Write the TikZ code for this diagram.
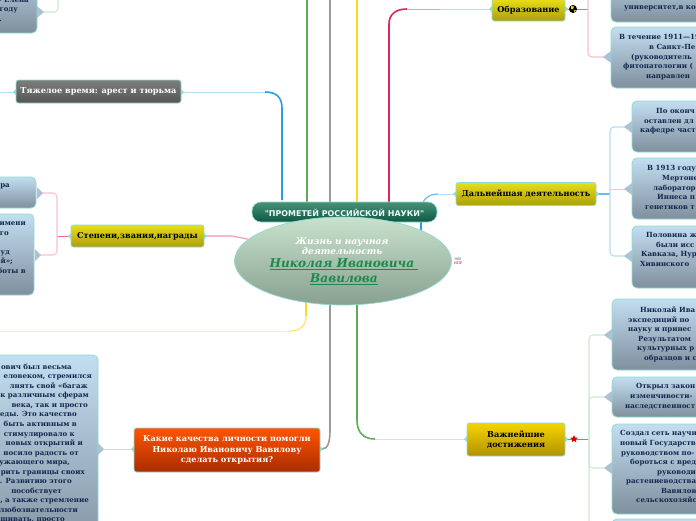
\documentclass[tikz,border=0pt]{standalone}
\usepackage{fontspec}
\setmainfont{DejaVu Serif}
\usetikzlibrary{shapes.geometric}
\definecolor{edgeTeal}{HTML}{8FDCCF}
\definecolor{navyText}{HTML}{14284F}
\definecolor{lineBlue}{HTML}{2A9EE0}
\definecolor{lineBlueL}{HTML}{B5DDF2}
\definecolor{lineGreen}{HTML}{5DAE57}
\definecolor{lineGreenL}{HTML}{CFE8CE}
\definecolor{lineGrey}{HTML}{9A9A9A}
\definecolor{lineGreyL}{HTML}{D8D8D8}
\definecolor{lineYellow}{HTML}{FFD820}
\definecolor{lineYellowL}{HTML}{FBEFB5}
\definecolor{lineRed}{HTML}{E0245E}
\definecolor{linePink}{HTML}{F2679A}
\definecolor{linePinkL}{HTML}{FBBFD3}
\definecolor{titleGreen}{HTML}{1C8A4C}
\definecolor{leafTop}{HTML}{C2DEF1}
\definecolor{leafBot}{HTML}{7F8F9D}
\definecolor{goldTop}{HTML}{E9DE18}
\definecolor{goldBot}{HTML}{AC9E10}
\tikzset{
  x=1pt,y=-1pt,
  boxbase/.style={rectangle,rounded corners=2.5pt,draw=edgeTeal,line width=0.8pt,inner sep=0pt,font=\bfseries\fontsize{8.15}{9.9}\selectfont,align=center},
  leaf/.style={boxbase,rounded corners=5pt,top color=leafTop,bottom color=leafBot},
  goldbox/.style={boxbase,top color=goldTop,bottom color=goldBot,text=black},
  txt/.style={inner sep=0pt,text=navyText,font=\bfseries\fontsize{7.05}{9.55}\selectfont},
  txtr/.style={txt,align=left,anchor=north west},
  txtl/.style={txt,align=right,anchor=north east},
  connthin/.style={line width=1.1pt,rounded corners=4pt},
}
\newcommand{\pad}[1]{\rule{#1pt}{0pt}}
\begin{document}
\begin{tikzpicture}
\useasboundingbox (0,0) rectangle (696,520);
\clip (0,0) rectangle (696,520);
\newcommand{\mkbox}[7]{\node[#1,minimum width=#4 pt - #2 pt,minimum height=#5 pt - #3 pt,#7] (#6) at ({(#2+#4)/2},{(#3+#5)/2}) {};}

% free ends
\coordinate (topBlue) at (282,200);
\coordinate (topGreen) at (307,204);
\coordinate (topGrey) at (330,204);
\coordinate (topYellow) at (357,204);
\coordinate (topRed) at (389,204);
\coordinate (outGreen) at (307,-5);
\coordinate (outGrey) at (330,-5);
\coordinate (outYellow) at (357,-5);
\coordinate (outRed) at (389,-5);
\coordinate (outLeftYellow) at (-5,331);
\coordinate (outLeftBlue) at (-5,92);

% main branches
\draw[line width=1.6pt,lineGreen] (topGreen) -- (outGreen);
\draw[line width=1.6pt,lineGrey] (topGrey) -- (outGrey);
\draw[line width=1.6pt,lineYellow] (topYellow) -- (outYellow);
\draw[line width=1.6pt,lineRed] (topRed) -- (389,24) .. controls (389,14) and (396,9) .. (407,9);
\draw[line width=1pt,linePink!70] (407,9) -- (440,9);
\draw[line width=1pt,linePinkL] (440,9) -- (492,9);
\draw[line width=1.6pt,lineBlue] (topBlue) -- (282,108) .. controls (282,97) and (276,92) .. (265,92);
\draw[line width=1pt,lineBlueL] (265,92) -- (181,92);
\draw[line width=1pt,lineBlueL] (16,92) -- (outLeftBlue);
\draw[line width=1.6pt,lineBlue] (421,235) -- (421,212);
\draw[line width=1.2pt,lineBlue!70] (421,212) .. controls (421,200) and (428,194) .. (438,194);
\draw[line width=1pt,lineBlueL] (438,194) -- (456,194);
\draw[line width=1.1pt,linePink!70] (204,236) -- (232,236) -- (252,240);
\draw[line width=1.6pt,lineYellow] (306,300) -- (306,316);
\draw[line width=1.2pt,lineYellow!70] (306,316) .. controls (306,326) and (300,331) .. (290,331);
\draw[line width=0.9pt,lineYellowL] (290,331) -- (outLeftYellow);
\draw[line width=1.6pt,lineGrey] (330,300) -- (330,430) .. controls (330,442) and (328,449) .. (322,449);
\draw[line width=1.6pt,lineGreen] (357,300) -- (357,420) .. controls (357,432) and (363,439) .. (375,439);
\draw[line width=1pt,lineGreenL] (375,439) -- (467,439);

% sub-branches
\draw[line width=1pt,linePink] (565,9) -- (588,9);
\draw[connthin,linePinkL] (588,-5) -- (588,57) -- (606,57);
\draw[line width=1.1pt,lineBlue!70] (596,194) -- (610,194);
\draw[connthin,lineBlueL] (626,127) -- (610,127) -- (610,256) -- (626,256);
\draw[line width=1pt,lineBlueL] (610,189) -- (626,189);
\draw[line width=1pt,lineGreen] (565,439) -- (589,439);
\draw[connthin,lineGreenL] (606,335) -- (589,335) -- (589,525);
\draw[connthin,lineGreenL] (606,397) -- (589,397) -- (589,468) -- (606,468);
\draw[line width=1pt,linePink] (71,236) -- (57,236);
\draw[connthin,linePinkL] (40,193) -- (57,193) -- (57,255) -- (38,255);
\draw[connthin,lineGreenL] (58,-5) -- (58,12) -- (40,12);
\draw[line width=0.9pt,lineGreyL] (134,449) -- (100,449);

% spikes on leaf boxes
\foreach \xa/\xb/\yc in {632/624/127,632/624/189,632/624/256,612/604/335,612/604/397,612/604/468,611/603/57,37/43/193,35/41/255,98/104/449,37/44/12}{
  \fill[leafBot!35!leafTop] (\xa,\yc-6) -- (\xb,\yc) -- (\xa,\yc+6) -- cycle;
}

% leaf boxes
\mkbox{leaf}{611}{-30}{720}{22}{eduA}{}
\mkbox{leaf}{611}{27}{720}{88}{eduB}{}
\mkbox{leaf}{632}{101}{720}{152}{actA}{}
\mkbox{leaf}{632}{158}{720}{219}{actB}{}
\mkbox{leaf}{632}{226}{720}{288}{actC}{}
\mkbox{leaf}{612}{299}{720}{370}{achA}{}
\mkbox{leaf}{612}{377}{720}{417}{achB}{}
\mkbox{leaf}{612}{424}{720}{514}{achC}{}
\mkbox{leaf}{612}{519}{720}{560}{achD}{}
\mkbox{leaf}{-30}{-40}{37}{33}{bioA}{}
\mkbox{leaf}{-30}{177}{36}{208}{degA}{}
\mkbox{leaf}{-30}{214}{34}{295}{degB}{}
\mkbox{leaf}{-30}{355}{98}{560}{quaA}{}

% main topic boxes
\node[goldbox,minimum width=73pt,minimum height=22pt] (edu) at (528.5,10) {Образование};
\node[goldbox,minimum width=140pt,minimum height=23pt] (act) at (526,194) {Дальнейшая деятельность};
\node[goldbox,minimum width=133pt,minimum height=22pt] (deg) at (137.5,236) {Степени,звания,награды};
\node[boxbase,minimum width=98pt,minimum height=33pt,top color={rgb,255:red,245;green,212;blue,0},bottom color={rgb,255:red,178;green,146;blue,0}] (ach) at (516,439.5) {Важнейшие\\достижения};
\node[boxbase,top color={rgb,255:red,125;green,125;blue,125},bottom color={rgb,255:red,85;green,85;blue,85},text=white,minimum width=165pt,minimum height=23pt] (hard) at (98.5,91.5) {Тяжелое время: арест и тюрьма};
\node[boxbase,top color={rgb,255:red,255;green,85;blue,0},bottom color={rgb,255:red,170;green,44;blue,0},text=white,minimum width=186pt,minimum height=44pt,font=\bfseries\fontsize{8.15}{10.6}\selectfont] (qual) at (227,450) {Какие качества личности помогли\\Николаю Ивановичу Вавилову\\сделать открытия?};

% spikes on topic boxes
\foreach \x/\y/\d in {565/9/3,492/9/-3,596/194/3,456/194/-3,71/236/-3,204/236/3,467/439/-3,565/439/3,16/92/-3,181/92/3,134/449/-3,320/449/3}{
  \fill[edgeTeal] (\x,\y-3) -- (\x+\d,\y) -- (\x,\y+3) -- cycle;
}

% centre
\node[rectangle,rounded corners=9pt,draw=edgeTeal,line width=0.6pt,minimum width=185pt,minimum height=20pt,top color={rgb,255:red,72;green,146;blue,120},bottom color={rgb,255:red,14;green,88;blue,66},inner sep=0pt] (banner) at (344.5,212) {};
\node[inner sep=0pt,text=white!85!edgeTeal,font=\fontspec{DejaVu Sans}\bfseries\fontsize{7.95}{9}\selectfont] (bannerText) at (344.5,213) {"ПРОМЕТЕЙ РОССИЙСКОЙ НАУКИ"};
\node[ellipse,draw=edgeTeal,line width=0.7pt,minimum width=217pt,minimum height=88pt,inner sep=0pt,top color={rgb,255:red,200;green,226;blue,205},bottom color={rgb,255:red,136;green,160;blue,144}] (centre) at (343,261) {};
\node[inner sep=0pt,align=center,text=white,font=\bfseries\itshape\fontsize{9}{10.4}\selectfont] (centreA) at (342,246) {Жизнь и научная\\деятельность};
\node[inner sep=0pt,align=center,text=titleGreen,font=\bfseries\itshape\fontsize{12.1}{15.2}\selectfont] (centreB) at (344,272) {\underline{Николая Ивановича }\\\underline{Вавилова}};

% small mark by the centre
\node[inner sep=0pt,text=black!70,font=\fontsize{3.5}{4}\selectfont,align=center] (markA) at (458,261) {980\\\textcolor{purple}{НПР}};

% icons
\node[circle,fill=black,minimum size=8pt,inner sep=0pt] (globe) at (573,9) {};
\fill[goldTop] (571,6) -- (574,6.5) -- (573,9) -- (571,9) -- cycle (574,10) -- (576,10) -- (574.5,12.5) -- cycle;
\node[star,star points=5,star point ratio=2.2,fill=red!85!black,minimum size=8pt,inner sep=0pt] (pin) at (574,439) {};

% clipped texts, right side
\node[txtr] (tEduA) at (624,6) {университет,в ко};
\node[txtr] (tEduB) at (619,34.5) {В течение 1911—19\\\hspace*{30pt}в Санкт-Пе\\\hspace*{12pt}(руководитель \\\hspace*{4pt}фитопатологии (\\\hspace*{27pt}направлен };
\node[txtr] (tActA) at (640,108.5) {\hspace*{16pt}По оконч\\\hspace*{4pt}оставлен дл\\кафедре част};
\node[txtr] (tActB) at (645,165.5) {\hspace*{2pt}В 1913 году р\\\hspace*{17pt}Мертоне\\\hspace*{8pt}лаборатор\\\hspace*{12pt}Иннеса п\\генетиков т};
\node[txtr] (tActC) at (640,232.5) {\hspace*{6pt}Половина ж\\\hspace*{16pt}были исс\\\hspace*{1pt}Кавказа, Нур\\Хивинского };
\node[txtr] (tAchA) at (628,306.5) {\hspace*{12pt}Николай Ива\\экспедиций по \\науку и принес\\\hspace*{10pt}Результатом \\\hspace*{9pt}культурных р\\\hspace*{16pt}образцов и с};
\node[txtr] (tAchB) at (625,383.5) {\hspace*{11pt}Открыл закон\\\hspace*{5pt}изменчивости-\\наследственност};
\node[txtr] (tAchC) at (620,430.5) {Создал сеть научн\\новый Государстве\\\hspace*{1pt}руководством по-\\\hspace*{10pt}бороться с вред\\\hspace*{37pt}руководи\\\hspace*{6pt}растениеводства\\\hspace*{41pt}Вавилов\\\hspace*{16pt}сельскохозяйс};

% clipped texts, left side
\node[txtl] (tBio) at (29,-3) {- Елена\\году\pad{11}\\.\pad{27}};
\node[txtl] (tDegA) at (10,183.5) {ра};
\node[txtl] (tDegB) at (26,221.5) {имени\\го\pad{17}\\\mbox{}\\уд\pad{16}\\й»;\pad{13}\\боты в};
\node[txtl] (tQua) at (92,363.5) {ович был весьма\pad{20}\\еловеком, стремился\\лнять свой «багаж\pad{4}\\к различным сферам\pad{3}\\века, так  и просто\pad{4}\\еды. Это качество\pad{15}\\быть активным в\pad{15}\\стимулировало к\pad{17}\\новых открытий и\pad{9}\\носило радость от\pad{13}\\ужающего мира,\pad{22}\\рить границы своих\pad{7}\\. Развитию этого\pad{20}\\пособствует\pad{30}\\, а также стремление\pad{3}\\любознательности\pad{14}\\шивать, просто\pad{27}};
\end{tikzpicture}
\end{document}
